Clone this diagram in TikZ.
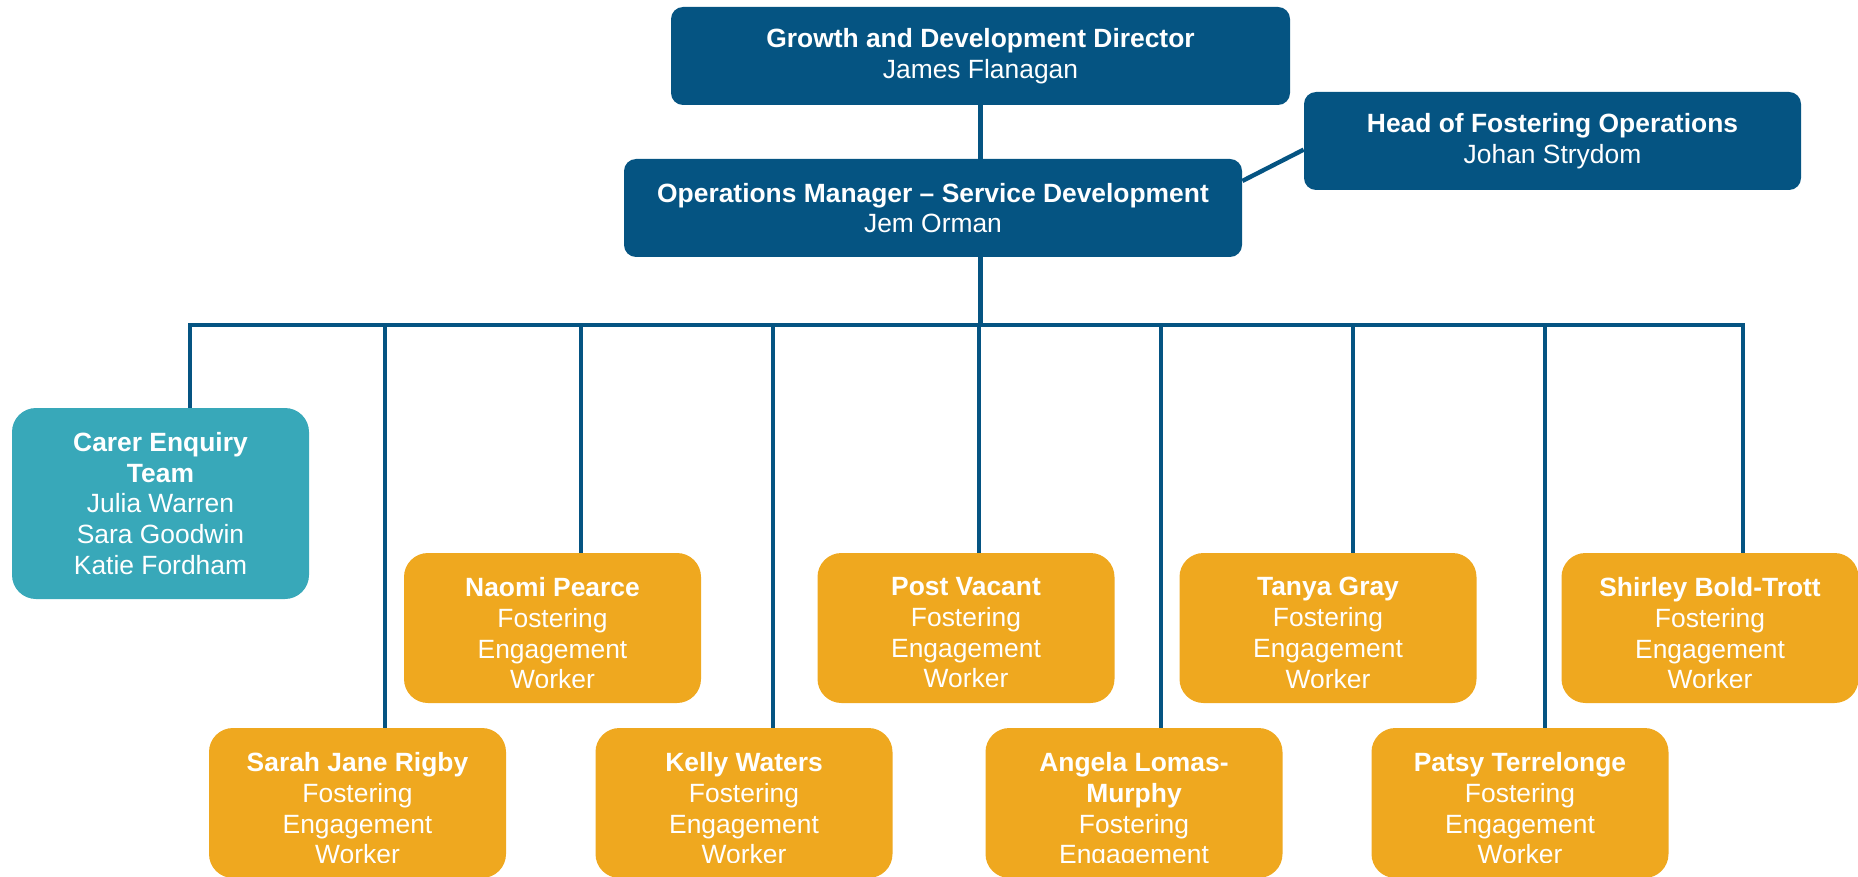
\documentclass[tikz,border=0pt]{standalone}
\usepackage{fontspec}
\setmainfont{Liberation Sans}
\usetikzlibrary{positioning}

\definecolor{orgblue}{RGB}{5,84,130}
\definecolor{orgteal}{RGB}{56,168,185}
\definecolor{orgorange}{RGB}{239,168,31}

\tikzset{
	orgtext/.style = {text = white, align = center, font = \fontsize{13.2}{15.4}\selectfont},
	orgboss/.style = {orgtext, fill = orgblue, rounded corners = 6pt, minimum height = 49pt, inner sep = 0pt},
	orgteam/.style = {orgtext, fill = orgteal, rounded corners = 12pt, minimum width = 148.5pt, minimum height = 95.5pt, inner sep = 0pt},
	orgpost/.style = {fill = orgorange, rounded corners = 12pt, minimum width = 148.5pt, minimum height = 75pt, inner sep = 0pt},
	posttext/.style = {orgtext, inner sep = 0pt, anchor = north},
	link/.style = {orgblue, line width = 2.2pt},
}

\begin{document}
\begin{tikzpicture}[x = 0.5pt, y = -0.5pt]
	
	\useasboundingbox (0, 0) rectangle (1858, 877);
	\clip (0, 0) rectangle (1858, 877);
	
	% managers
	\node[orgboss, minimum width = 309.5pt] (growth) at (980.5, 56) {\textbf{Growth and Development Director}\\James Flanagan};
	\node[orgboss, minimum width = 248.5pt] (head) at (1552.5, 141) {\textbf{Head of Fostering Operations}\\Johan Strydom};
	\node[orgboss, minimum width = 309pt] (ops) at (933, 208) {\textbf{Operations Manager -- Service Development}\\Jem Orman};
	
	\node[orgteam] (carer) at (160.5, 503.5) {\textbf{Carer Enquiry}\\\textbf{Team}\\Julia Warren\\Sara Goodwin\\Katie Fordham};
	
	% workers, upper row
	\node[orgpost] (naomi) at (552.5, 628) {};
	\node[orgpost] (post) at (966, 628) {};
	\node[orgpost] (tanya) at (1328, 628) {};
	\node[orgpost] (shirley) at (1710, 628) {};
	
	% workers, lower row
	\node[orgpost] (sarah) at (357.5, 803) {};
	\node[orgpost] (kelly) at (744, 803) {};
	\node[orgpost] (angela) at (1134, 803) {};
	\node[orgpost] (patsy) at (1520, 803) {};
	
	% names, cut off at the bottom of each box
	\begin{scope}
		\clip (404, 553) rectangle (701, 687);
		\node[posttext] (naomitext) at (552.5, 577) {\textbf{Naomi Pearce}\\Fostering\\Engagement\\Worker};
	\end{scope}
	\begin{scope}
		\clip (818, 553) rectangle (1114, 687);
		\node[posttext] (posttext) at (966, 577) {\textbf{Post Vacant}\\Fostering\\Engagement\\Worker};
	\end{scope}
	\begin{scope}
		\clip (1180, 553) rectangle (1476, 687);
		\node[posttext] (tanyatext) at (1328, 577) {\textbf{Tanya Gray}\\Fostering\\Engagement\\Worker};
	\end{scope}
	\begin{scope}
		\clip (1562, 553) rectangle (1858, 687);
		\node[posttext] (shirleytext) at (1710, 577) {\textbf{Shirley Bold-Trott}\\Fostering\\Engagement\\Worker};
	\end{scope}
	\begin{scope}
		\clip (209, 728) rectangle (506, 862);
		\node[posttext] (sarahtext) at (357.5, 752) {\textbf{Sarah Jane Rigby}\\Fostering\\Engagement\\Worker};
	\end{scope}
	\begin{scope}
		\clip (596, 728) rectangle (892, 862);
		\node[posttext] (kellytext) at (744, 752) {\textbf{Kelly Waters}\\Fostering\\Engagement\\Worker};
	\end{scope}
	\begin{scope}
		\clip (986, 728) rectangle (1282, 862);
		\node[posttext] (angelatext) at (1134, 752) {\textbf{Angela Lomas-}\\\textbf{Murphy}\\Fostering\\Engagement\\Worker};
	\end{scope}
	\begin{scope}
		\clip (1372, 728) rectangle (1668, 862);
		\node[posttext] (patsytext) at (1520, 752) {\textbf{Patsy Terrelonge}\\Fostering\\Engagement\\Worker};
	\end{scope}
	
	% lines
	\coordinate (bus) at (190, 325);
	\coordinate (busend) at (1743, 325);
	
	\draw[link] (growth.south) -- (growth.south |- ops.north);
	\draw[link] (ops.5) -- (head.182);
	\draw[link] (growth.south |- ops.south) -- (growth.south |- bus);
	\draw[link, line cap = rect] (bus) -- (busend);
	
	\foreach \x/\n in {190/carer, 385/sarah, 581/naomi, 773/kelly, 979/post, 1161/angela, 1353/tanya, 1545/patsy, 1743/shirley}
		\draw[link] (\x, 325) -- (\n.north -| \x, 325);
	
\end{tikzpicture}
\end{document}
